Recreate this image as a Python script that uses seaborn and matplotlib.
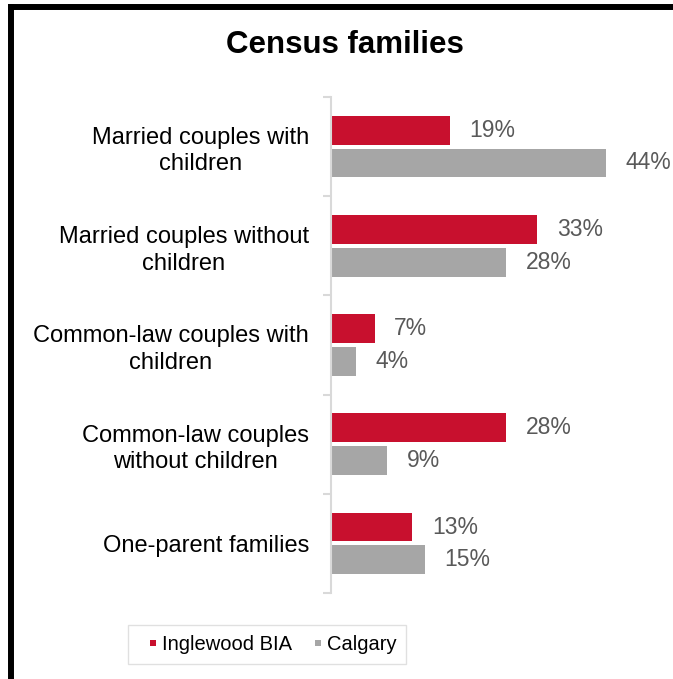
import pandas as pd
import numpy as np
import matplotlib.pyplot as plt
import seaborn as sns
from matplotlib.lines import Line2D
from matplotlib.ticker import FixedLocator

# data
categories = ["Married couples with\nchildren",
              "Married couples without\nchildren",
              "Common-law couples with\nchildren",
              "Common-law couples\nwithout children",
              "One-parent families"]
inglewood = [19, 33, 7, 28, 13]
calgary = [44, 28, 4, 9, 15]
series = ["Inglewood BIA", "Calgary"]
colors = ["#C8102E", "#A6A6A6"]

df = pd.DataFrame({
    "category": categories * 2,
    "value": inglewood + calgary,
    "area": [series[0]] * len(categories) + [series[1]] * len(categories),
})

sns.set_style("white")
plt.rcParams["font.family"] = ["Liberation Sans", "DejaVu Sans"]
plt.rcParams["text.color"] = "black"

fig = plt.figure(figsize=(6.73, 6.79), dpi=100)
ax = fig.add_axes([0.492, 0.1267, 0.464, 0.7304])

sns.barplot(data=df, x="value", y="category", hue="area", orient="h",
            palette=colors, saturation=1, width=0.66, gap=0.12, linewidth=0, ax=ax)

for c in ax.containers:
    ax.bar_label(c, fmt="%g%%", padding=14, color="#595959", fontsize=16.5)

ax.set_xlim(0, 50)
ax.set_ylim(4.5, -0.5)
ax.set_xlabel("")
ax.set_ylabel("")
ax.set_xticks([])

# spines / ticks
for s in ["top", "right", "bottom"]:
    ax.spines[s].set_visible(False)
ax.spines["left"].set_color("#D9D9D9")
ax.spines["left"].set_linewidth(1.5)
ax.yaxis.set_minor_locator(FixedLocator(np.arange(-0.5, 5, 1)))
ax.tick_params(axis="y", which="major", length=0, pad=16, labelsize=17, labelcolor="black")
ax.tick_params(axis="y", which="minor", length=6, width=1.5, color="#D9D9D9", left=True)
for t in ax.get_yticklabels():
    t.set_multialignment("center")
    t.set_linespacing(1.25)

# legend with small square markers
handles = [Line2D([], [], marker="s", linestyle="none", markersize=4.8,
                  markerfacecolor=col, markeredgewidth=0) for col in colors]
ax.legend(handles, series, loc="center", bbox_to_anchor=(0.397, 0.051),
          bbox_transform=fig.transFigure, ncol=2, frameon=True, fancybox=False,
          edgecolor="#D9D9D9", fontsize=14.5, handlelength=1.5,
          handletextpad=-0.3, columnspacing=0.5, borderpad=0.5)

fig.text(0.513, 0.934, "Census families", ha="center", va="center",
         fontsize=22.5, fontweight="bold", color="black")

# black frame (top and left edges)
fig.add_artist(Line2D([8 / 673, 1], [1 - 7 / 679, 1 - 7 / 679], color="black",
                      linewidth=4.3, transform=fig.transFigure, solid_capstyle="butt"))
fig.add_artist(Line2D([11 / 673, 11 / 673], [0, 1 - 4 / 679], color="black",
                      linewidth=4.3, transform=fig.transFigure, solid_capstyle="butt"))

fig.savefig("out.png", dpi=100)
